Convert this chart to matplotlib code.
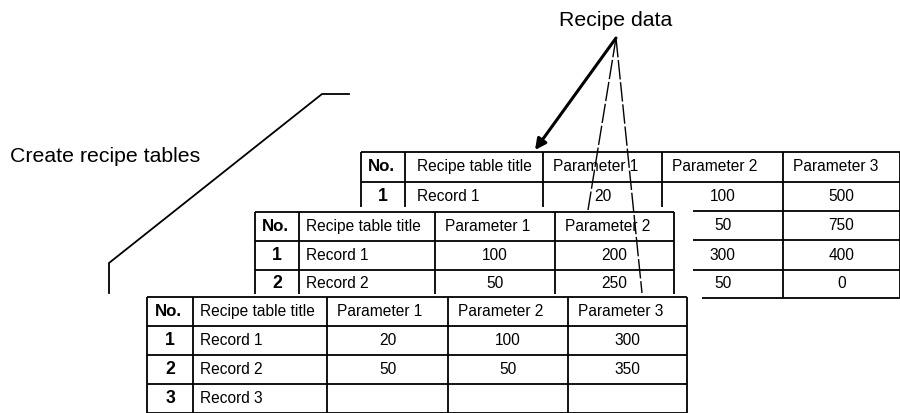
import matplotlib
matplotlib.use("Agg")
import matplotlib.pyplot as plt
from matplotlib.patches import Rectangle

plt.rcParams["font.family"] = ["Liberation Sans", "DejaVu Sans"]

# ----------------------------
# DATA
# ----------------------------
label_create        = "Create recipe tables"
label_data          = "Recipe data"

hdr_no              = "No."
hdr_title           = "Recipe table title"

# back table (mostly hidden)
a_params            = ["Parameter 1", "Parameter 2", "Parameter 3"]
a_no                = [1, 2, 3, 4]
a_titles            = ["Record 1", "", "", ""]
a_p1                = [20, None, None, None]
a_p2                = [100, 50, 300, 50]
a_p3                = [500, 750, 400, 0]

# middle table
b_params            = ["Parameter 1", "Parameter 2"]
b_no                = [1, 2]
b_titles            = ["Record 1", "Record 2"]
b_p1                = [100, 50]
b_p2                = [200, 250]

# front table
c_params            = ["Parameter 1", "Parameter 2", "Parameter 3"]
c_no                = [1, 2, 3]
c_titles            = ["Record 1", "Record 2", "Record 3"]
c_p1                = [20, 50, None]
c_p2                = [100, 50, None]
c_p3                = [300, 350, None]

# ----------------------------
# LAYOUT (pixel space, y down)
# ----------------------------
a_x                 = [361, 405, 543, 662, 783, 900]
a_y                 = [152, 181.5, 211, 240, 270, 298]
b_x                 = [255, 299, 435, 555, 674]
b_y                 = [212, 240.5, 269.5, 298]
c_x                 = [147, 193, 327, 448, 568, 687]
c_y                 = [297, 326, 355, 384, 413]

fig                 = plt.figure(figsize=(9, 4.13), dpi=100)
ax                  = fig.add_axes([0, 0, 1, 1])
ax.set_xlim(0, 900)
ax.set_ylim(413, 0)
ax.axis("off")

FS                  = 11.2
LW                  = 1.3


def draw_table(xs, ys, params, nos, titles, values, z, title_pad=7):
    for y in ys:
        ax.plot([xs[0], xs[-1]], [y, y], color="black", lw=LW, zorder=z,
                solid_capstyle="butt")
    for x in xs:
        ax.plot([x, x], [ys[0], ys[-1]], color="black", lw=LW, zorder=z,
                solid_capstyle="butt")

    hy = (ys[0] + ys[1]) / 2
    ax.text((xs[0] + xs[1]) / 2 - 2, hy, hdr_no, ha="center", va="center",
            fontsize=FS + 1, fontweight="bold", zorder=z)
    ax.text(xs[1] + title_pad, hy, hdr_title, ha="left", va="center",
            fontsize=FS, zorder=z)
    for i, p in enumerate(params):
        ax.text(xs[2 + i] + 10, hy, p, ha="left", va="center",
                fontsize=FS, zorder=z)

    for r, (n, t) in enumerate(zip(nos, titles)):
        ry = (ys[r + 1] + ys[r + 2]) / 2
        # rows whose title is empty sit under the next table: no number
        if t:
            ax.text((xs[0] + xs[1]) / 2, ry, str(n), ha="center",
                    va="center", fontsize=FS + 1.5, fontweight="bold",
                    zorder=z)
            ax.text(xs[1] + title_pad, ry, t, ha="left", va="center",
                    fontsize=FS, zorder=z)
        for i, col in enumerate(values):
            v = col[r]
            if v is None:
                continue
            ax.text((xs[2 + i] + xs[3 + i]) / 2, ry, str(v), ha="center",
                    va="center", fontsize=FS, fontstretch="condensed",
                    zorder=z)


# back table
draw_table(a_x, a_y, a_params, a_no, a_titles, [a_p1, a_p2, a_p3], 1,
           title_pad=12)

# cover for the middle table
ax.add_patch(Rectangle((250, 207), 443, 92, facecolor="white",
                       edgecolor="none", zorder=2))
draw_table(b_x, b_y, b_params, b_no, b_titles, [b_p1, b_p2], 3)

# cover for the front table
ax.add_patch(Rectangle((140, 294), 562, 125, facecolor="white",
                       edgecolor="none", zorder=4))
draw_table(c_x, c_y, c_params, c_no, c_titles, [c_p1, c_p2, c_p3], 5,
           title_pad=7)

# ----------------------------
# LABELS AND LEADERS
# ----------------------------
ax.text(10, 156, label_create, ha="left", va="center", fontsize=15.3,
        zorder=7)
ax.plot([349, 322, 109, 109], [94, 94, 263, 293], color="black", lw=1.3,
        zorder=7, solid_joinstyle="miter")

ax.text(616, 20, label_data, ha="center", va="center", fontsize=15.3,
        zorder=7)

apex                = (616, 38)
ax.annotate("", xy=(535, 150), xytext=apex,
            arrowprops=dict(arrowstyle="-|>", color="black", lw=2.2,
                            mutation_scale=16, shrinkA=0, shrinkB=0),
            zorder=7)
ax.plot([apex[0], 588], [apex[1], 210], color="black", lw=1.0,
        linestyle=(0, (14, 2)), zorder=7)
ax.plot([apex[0], 642], [apex[1], 293], color="black", lw=1.0,
        linestyle=(0, (14, 2)), zorder=7)

fig.savefig("out.png", dpi=100, facecolor="white")
